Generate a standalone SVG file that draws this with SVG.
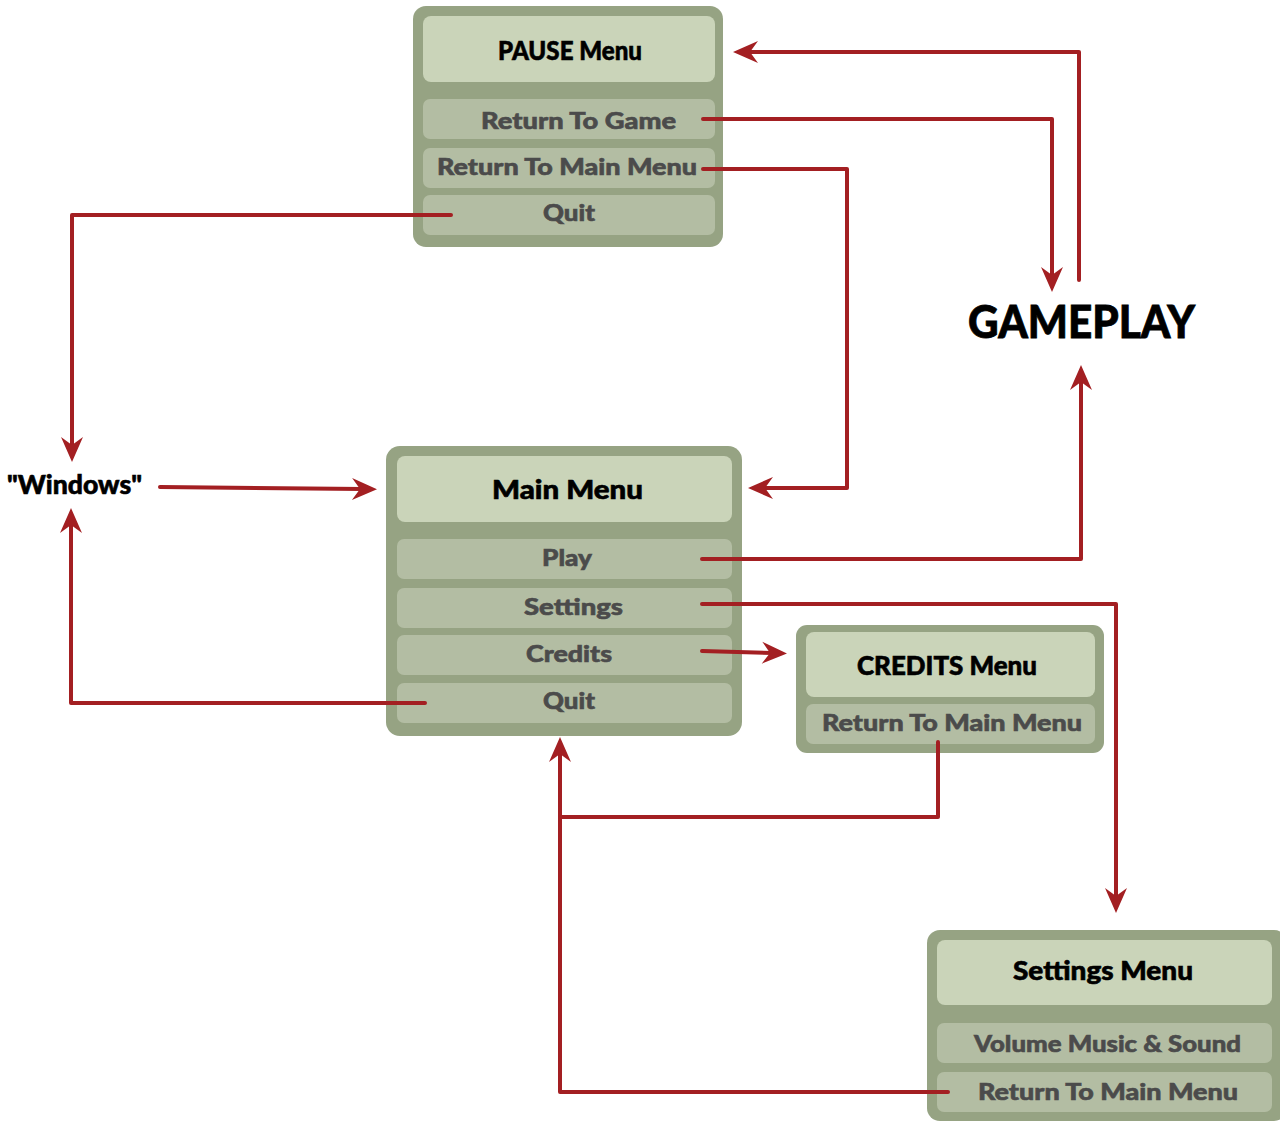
<svg xmlns="http://www.w3.org/2000/svg" width="1280" height="1122" viewBox="0 0 1280 1122">
<style>
.frame{fill:#96a383}
.head{fill:#cad4b9}
.item{fill:#b3bda3}
.ht{font-family:"Lato","Liberation Sans",sans-serif;font-weight:900;font-size:26px;fill:#000;stroke:#000;stroke-width:0.6;text-anchor:middle}
.it{font-family:"Lato","Liberation Sans",sans-serif;font-weight:900;font-size:23px;fill:#4b4b4b;stroke:#4b4b4b;stroke-width:0.6;text-anchor:middle}
.big{font-family:"Lato","Liberation Sans",sans-serif;font-weight:900;font-size:45px;fill:#000;stroke:#000;stroke-width:0.8;text-anchor:middle}
.conn path{fill:none;stroke:#a31f22;stroke-width:4;stroke-linecap:round;stroke-linejoin:round}
</style>
<defs>
<marker id="ah" markerUnits="userSpaceOnUse" orient="auto" overflow="visible" refX="0" refY="0" markerWidth="30" markerHeight="24">
<path d="M14,0 L-11,-11 L-3,0 L-11,11 Z" fill="#a31f22"/>
</marker>
</defs>
<rect width="1280" height="1122" fill="#fff"/>

<g id="pause-menu">
<rect class="frame" x="413" y="6" width="310" height="241" rx="13"/>
<rect class="head" x="423" y="16" width="292" height="66" rx="8"/>
<rect class="item" x="423" y="99" width="292" height="40" rx="7"/>
<rect class="item" x="423" y="148" width="292" height="40" rx="7"/>
<rect class="item" x="423" y="195" width="292" height="40" rx="7"/>
<text class="ht" x="570" y="60" textLength="144" lengthAdjust="spacingAndGlyphs">PAUSE Menu</text>
<text class="it" x="578.5" y="129" textLength="195" lengthAdjust="spacingAndGlyphs">Return To Game</text>
<text class="it" x="567" y="175" textLength="260" lengthAdjust="spacingAndGlyphs">Return To Main Menu</text>
<text class="it" x="569" y="221" textLength="52" lengthAdjust="spacingAndGlyphs">Quit</text>
</g>

<g id="main-menu">
<rect class="frame" x="386" y="446" width="356" height="290" rx="14"/>
<rect class="head" x="397" y="456" width="335" height="66" rx="8"/>
<rect class="item" x="397" y="539" width="335" height="40" rx="7"/>
<rect class="item" x="397" y="588" width="335" height="40" rx="7"/>
<rect class="item" x="397" y="635" width="335" height="40" rx="7"/>
<rect class="item" x="397" y="683" width="335" height="40" rx="7"/>
<text class="ht" x="567.5" y="499" textLength="151" lengthAdjust="spacingAndGlyphs">Main Menu</text>
<text class="it" x="567" y="566" textLength="50" lengthAdjust="spacingAndGlyphs">Play</text>
<text class="it" x="573.5" y="615" textLength="99" lengthAdjust="spacingAndGlyphs">Settings</text>
<text class="it" x="569" y="662" textLength="86" lengthAdjust="spacingAndGlyphs">Credits</text>
<text class="it" x="569" y="709" textLength="52" lengthAdjust="spacingAndGlyphs">Quit</text>
</g>

<g id="credits-menu">
<rect class="frame" x="796" y="625" width="308" height="128" rx="11"/>
<rect class="head" x="806" y="632" width="289" height="65" rx="8"/>
<rect class="item" x="806" y="704" width="289" height="40" rx="7"/>
<text class="ht" x="947" y="675" textLength="180" lengthAdjust="spacingAndGlyphs">CREDITS Menu</text>
<text class="it" x="952" y="731" textLength="260" lengthAdjust="spacingAndGlyphs">Return To Main Menu</text>
</g>

<g id="settings-menu">
<rect class="frame" x="927" y="930" width="360" height="191" rx="13"/>
<rect class="head" x="937" y="940" width="335" height="65" rx="8"/>
<rect class="item" x="937" y="1023" width="335" height="40" rx="7"/>
<rect class="item" x="937" y="1072" width="335" height="40" rx="7"/>
<text class="ht" x="1103" y="980" textLength="180" lengthAdjust="spacingAndGlyphs">Settings Menu</text>
<text class="it" x="1107.5" y="1052" textLength="267" lengthAdjust="spacingAndGlyphs">Volume Music &amp; Sound</text>
<text class="it" x="1108" y="1100" textLength="260" lengthAdjust="spacingAndGlyphs">Return To Main Menu</text>
</g>

<g id="gameplay">
<text class="big" x="1081.5" y="338" textLength="227" lengthAdjust="spacingAndGlyphs">GAMEPLAY</text>
</g>

<g id="windows">
<text class="ht" x="74.5" y="494" textLength="135" lengthAdjust="spacingAndGlyphs">"Windows"</text>
</g>

<g id="connectors" class="conn">
<path d="M1079,280 V52 H747" marker-end="url(#ah)"/>
<path d="M703,119 H1052 V278" marker-end="url(#ah)"/>
<path d="M703,169 H847 V488 H762" marker-end="url(#ah)"/>
<path d="M451,215 H72 V448" marker-end="url(#ah)"/>
<path d="M160,487 L363,489" marker-end="url(#ah)"/>
<path d="M425,703 H71 V522" marker-end="url(#ah)"/>
<path d="M702,559 H1081 V379" marker-end="url(#ah)"/>
<path d="M702,604 H1116 V899" marker-end="url(#ah)"/>
<path d="M702,651 L773,653" marker-end="url(#ah)"/>
<path d="M938,742 V817 H560"/>
<path d="M948,1092 H560 V751" marker-end="url(#ah)"/>
</g>
</svg>
